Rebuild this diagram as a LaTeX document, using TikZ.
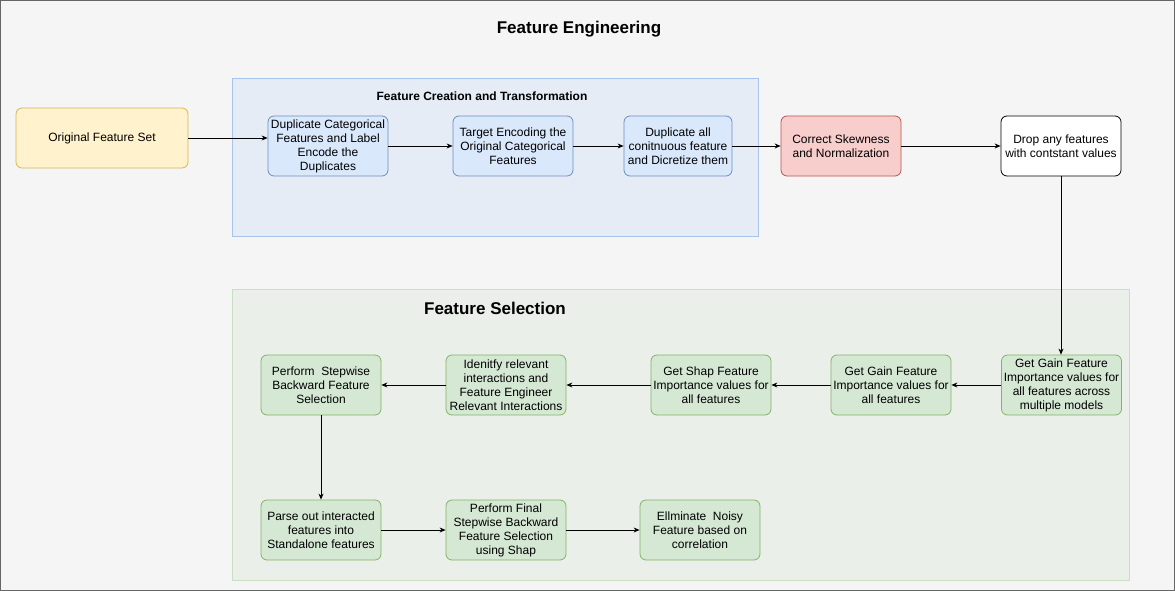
\documentclass[tikz,border=0pt]{standalone}
\usepackage{fontspec}
\setmainfont{Liberation Sans}
\usetikzlibrary{arrows.meta}

\definecolor{bgGray}{HTML}{F5F5F5}
\definecolor{frameGray}{HTML}{666666}
\definecolor{blueFill}{HTML}{DAE8FC}
\definecolor{blueLine}{HTML}{6C8EBF}
\definecolor{blueGroup}{HTML}{E6ECF6}
\definecolor{blueGroupLine}{HTML}{A9C4EB}
\definecolor{greenFill}{HTML}{D5E8D4}
\definecolor{greenLine}{HTML}{82B366}
\definecolor{greenGroup}{HTML}{EAF0E9}
\definecolor{greenGroupLine}{HTML}{C9DFC3}
\definecolor{yellowFill}{HTML}{FFF2CC}
\definecolor{yellowLine}{HTML}{D6B656}
\definecolor{redFill}{HTML}{F8CECC}
\definecolor{redLine}{HTML}{B85450}

\tikzset{
    stepbox/.style={draw, rounded corners=6pt, line width=0.8pt, minimum width=120pt,
        minimum height=60pt, text width=120pt, inner xsep=0pt, inner ysep=1pt, align=flush center,
        font=\fontsize{12}{14}\selectfont},
    bluebox/.style={stepbox, fill=blueFill, draw=blueLine},
    greenbox/.style={stepbox, fill=greenFill, draw=greenLine},
    flow/.style={-{Stealth[length=6pt,width=5pt]}, line width=0.8pt}
}

\begin{document}
\begin{tikzpicture}[x=1pt, y=-1pt]
    % frame and groups
    \draw[fill=bgGray, draw=frameGray, line width=1pt] (0.5,0.5) rectangle (1174.5,590.5);
    \useasboundingbox (0,0) rectangle (1175,591);
    \draw[fill=blueGroup, draw=blueGroupLine, line width=0.8pt] (232,78) rectangle (758,236);
    \draw[fill=greenGroup, draw=greenGroupLine, line width=0.8pt] (232,289) rectangle (1129,580);

    \node (title) at (579,29) {\fontsize{17}{20}\selectfont\bfseries Feature Engineering};
    \node (creation) at (482,96) {\fontsize{12}{14}\selectfont\bfseries Feature Creation and Transformation};
    \node (selection) at (495,308) {\fontsize{17}{20}\selectfont\bfseries Feature Selection};

    % feature creation row
    \node (orig) at (102,138) [stepbox, fill=yellowFill, draw=yellowLine, minimum width=172pt] {Original Feature Set};
    \node (dupcat) at (328,146) [bluebox] {Duplicate Categorical Features and Label Encode the\\ Duplicates};
    \node (target) [bluebox, right of=dupcat, node distance=185pt] {Target Encoding the Original Categorical Features};
    \node (dupcont) [bluebox, right of=target, node distance=165pt, minimum width=108pt, text width=108pt] {Duplicate all conitnuous feature and Dicretize them};
    \node (skew) [stepbox, fill=redFill, draw=redLine, right of=dupcont, node distance=163pt] {Correct Skewness and Normalization};
    \node (drop) [stepbox, draw=black, fill=white, right of=skew, node distance=220pt] {Drop any features\\ with contstant values};

    % feature selection rows
    \node (gainmulti) at (1061.5,385) [greenbox] {Get Gain Feature Importance values for all features across multiple models};
    \node (gain) [greenbox, left of=gainmulti, node distance=170.5pt] {Get Gain Feature Importance values for all features};
    \node (shap) [greenbox, left of=gain, node distance=180pt] {Get Shap Feature Importance values for all features};
    \node (interact) [greenbox, left of=shap, node distance=205pt] {Idenitfy relevant interactions and Feature Engineer Relevant Interactions};
    \node (stepwise) [greenbox, left of=interact, node distance=185pt] {Perform\ \ Stepwise Backward Feature Selection};

    \node (parse) at (321,530) [greenbox] {Parse out interacted features into Standalone features};
    \node (final) [greenbox, right of=parse, node distance=185pt] {Perform Final Stepwise Backward Feature Selection using Shap};
    \node (noisy) [greenbox, right of=final, node distance=194pt] {Ellminate\ \ Noisy Feature based on correlation};

    % connectors
    \draw[flow] (orig.east) -- (orig.east -| dupcat.west);
    \draw[flow] (dupcat) -- (target);
    \draw[flow] (target) -- (dupcont);
    \draw[flow] (dupcont) -- (skew);
    \draw[flow] (skew) -- (drop);
    \draw[flow] (drop.south) -- (drop.south |- gainmulti.north);
    \draw[flow] (gainmulti) -- (gain);
    \draw[flow] (gain) -- (shap);
    \draw[flow] (shap) -- (interact);
    \draw[flow] (interact) -- (stepwise);
    \draw[flow] (stepwise) -- (parse);
    \draw[flow] (parse) -- (final);
    \draw[flow] (final) -- (noisy);
\end{tikzpicture}
\end{document}
